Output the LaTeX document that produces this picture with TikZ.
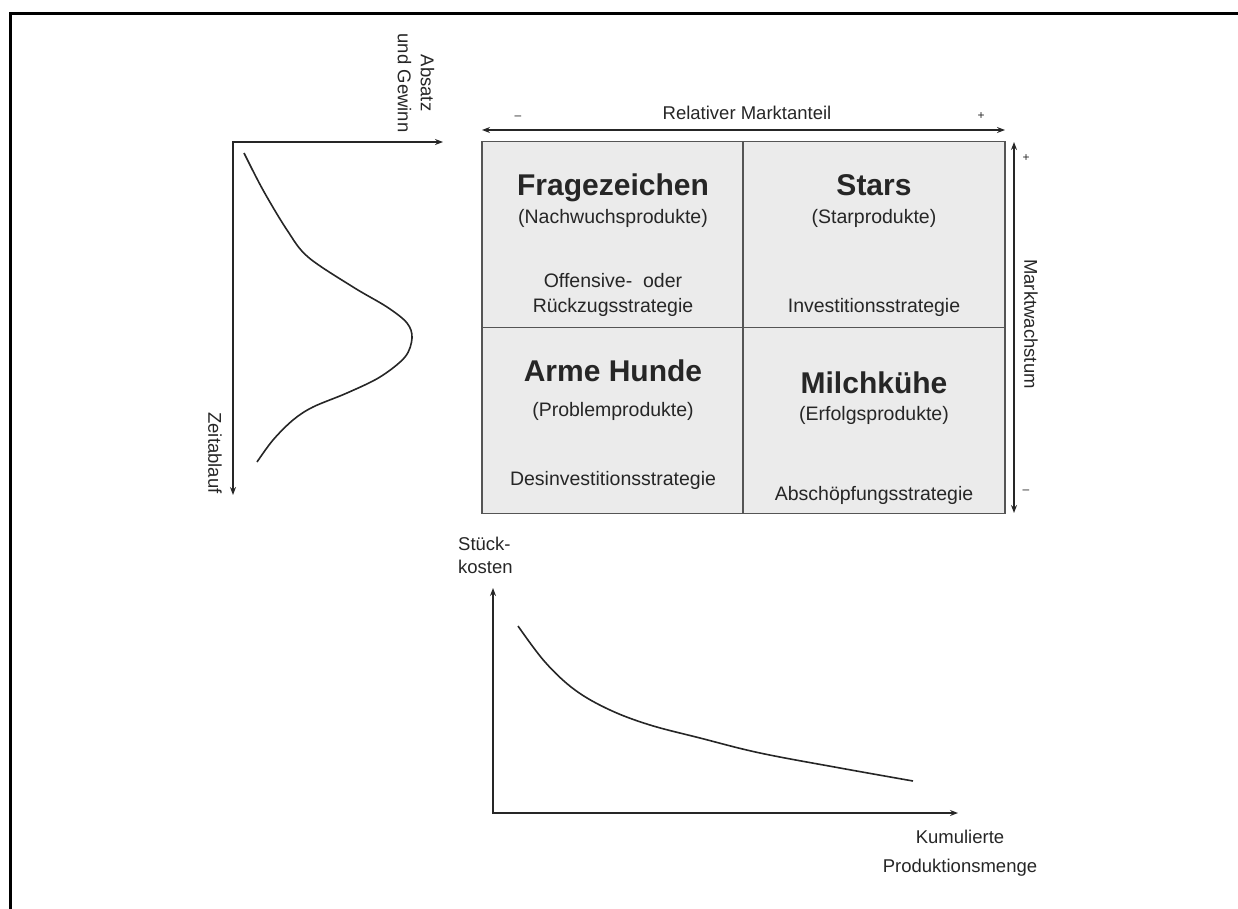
\documentclass[tikz,border=0pt]{standalone}
\usepackage{fontspec}
\setmainfont{Liberation Sans}
\usetikzlibrary{arrows.meta}
\definecolor{cellfill}{HTML}{EBEBEB}
\definecolor{linegray}{HTML}{555555}
\definecolor{inkgray}{HTML}{262626}
\tikzset{
  cell/.style={draw=linegray, line width=1.5pt, fill=cellfill, minimum width=262pt, minimum height=186pt, inner sep=0pt},
  title/.style={font=\fontsize{30}{36}\selectfont\bfseries, anchor=base, text=inkgray, inner sep=0pt},
  sub/.style={font=\fontsize{19.5}{24}\selectfont, anchor=base, text=inkgray, inner sep=0pt},
  axlabel/.style={font=\fontsize{18.5}{23}\selectfont, text=inkgray, inner sep=0pt},
  sign/.style={font=\fontsize{12}{14}\selectfont, text=inkgray, inner sep=0pt},
  axis/.style={draw=inkgray, line width=1.6pt},
  curve/.style={draw=inkgray, line width=1.6pt}
}
\begin{document}
\begin{tikzpicture}[x=1pt, y=-1pt, >={Stealth[length=8pt,width=6pt]}]
\useasboundingbox (0,0) rectangle (1238,909);
\clip (0,0) rectangle (1238,909);
% outer frame (cut off at the right and bottom)
\draw[line width=3pt] (10,14) rectangle (1260,930);

% portfolio matrix
\node[cell] (FZ) at (613,234.7) {};
\node[cell] (ST) at (874,234.7) {};
\node[cell] (AH) at (613,420.7) {};
\node[cell] (MK) at (874,420.7) {};

\node[title] (fzT) at (613,196) {Fragezeichen};
\node[sub] (fzS) at (613,224) {(Nachwuchsprodukte)};
\node[sub] (fzA) at (613,287) {Offensive-\ \ oder};
\node[sub] (fzB) at (613,312) {Rückzugsstrategie};

\node[title] (stT) at (874,196) {Stars};
\node[sub] (stS) at (874,224) {(Starprodukte)};
\node[sub] (stA) at (874,312) {Investitionsstrategie};

\node[title] (ahT) at (613,381) {Arme Hunde};
\node[sub] (ahS) at (613,416) {(Problemprodukte)};
\node[sub] (ahA) at (613,485) {Desinvestitionsstrategie};

\node[title] (mkT) at (874,393) {Milchkühe};
\node[sub] (mkS) at (874,420) {(Erfolgsprodukte)};
\node[sub] (mkA) at (874,500) {Abschöpfungsstrategie};

% axes of the matrix
\coordinate (mL) at (482,130);
\coordinate (mR) at (1005,130);
\draw[axis, <->] (mL) -- (mR);
\node[axlabel] (relM) at (747,113) {Relativer Marktanteil};
\node[sign] (mMinus) at (518,118) {–};
\node[sign] (mPlus) at (981,116) {+};

\coordinate (gT) at (1014,142);
\coordinate (gB) at (1014,513);
\draw[axis, <->] (gT) -- (gB);
\node[axlabel, rotate=-90] (mwL) at (1031,324) {Marktwachstum};
\node[sign] (gPlus) at (1026,158) {+};
\node[sign] (gMinus) at (1026,492) {–};

% product life cycle
\coordinate (lO) at (233,142);
\coordinate (lX) at (443,142);
\coordinate (lY) at (233,495);
\draw[axis, <->] (lX) -- (lO) -- (lY);
\node[axlabel, rotate=-90, align=center] (agL) at (416,83) {Absatz\\und Gewinn};
\node[axlabel, rotate=-90] (zaL) at (215,453) {Zeitablauf};
\draw[curve] plot[smooth, tension=0.55] coordinates {(244,153) (263,190) (287,230) (308,257) (353,287) (387,307) (407,323) (412,338) (405,357) (380,377) (347,393) (313,407) (293,420) (273,440) (257,462)};

% experience curve
\coordinate (bO) at (493,813);
\coordinate (bY) at (493,588);
\coordinate (bX) at (958,813);
\draw[axis, <->] (bY) -- (bO) -- (bX);
\node[axlabel, align=left, anchor=west] (skL) at (458,555) {Stück-\\kosten};
\node[axlabel, align=center, font=\fontsize{18.5}{29}\selectfont] (kpL) at (960,853) {Kumulierte\\Produktionsmenge};
\draw[curve] plot[smooth, tension=0.6] coordinates {(518,626) (545,662) (575,690) (610,710) (650,725) (700,738) (760,753) (840,768) (913,781)};
\end{tikzpicture}
\end{document}
